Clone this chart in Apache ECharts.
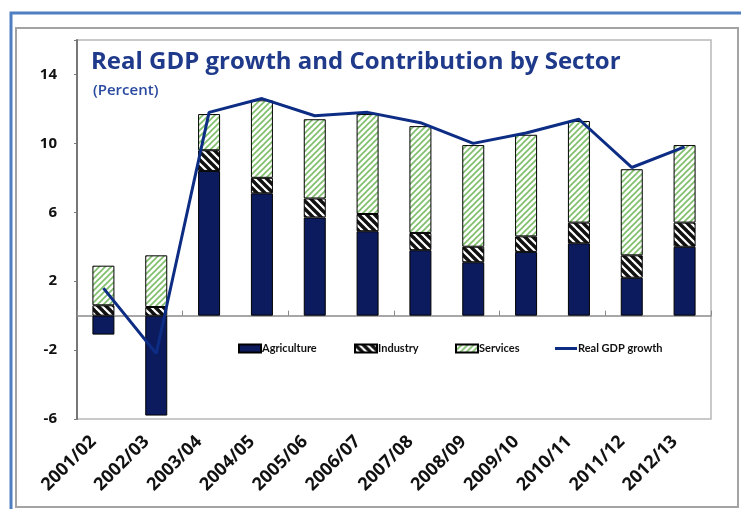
<!DOCTYPE html>
<html><head><meta charset="utf-8">
<script src="https://cdn.jsdelivr.net/npm/echarts@6/dist/echarts.min.js"></script>
<style>html,body{margin:0;padding:0;background:#fff}#c{width:741px;height:509px}</style>
</head><body><div id="c"></div>
<script>
const categories = ['2001/02','2002/03','2003/04','2004/05','2005/06','2006/07','2007/08','2008/09','2009/10','2010/11','2011/12','2012/13'];
const agriculture = [-1.1, -5.8, 8.4, 7.1, 5.7, 4.9, 3.8, 3.1, 3.7, 4.2, 2.2, 4.0];
const industry = [0.6, 0.5, 1.2, 0.9, 1.1, 1.0, 1.0, 0.9, 0.9, 1.2, 1.3, 1.4];
const services = [2.3, 3.0, 2.1, 4.5, 4.6, 5.8, 6.2, 5.9, 5.9, 5.9, 5.0, 4.5];
const gdpGrowth = [1.6, -2.2, 11.8, 12.6, 11.6, 11.8, 11.2, 10.0, 10.6, 11.4, 8.6, 9.8];
const yTicks = [-6, -2, 2, 6, 10, 14];

function hatch(p, lw, fg, bg, back) {
  const c = document.createElement('canvas');
  c.width = p; c.height = p;
  const g = c.getContext('2d');
  g.fillStyle = bg; g.fillRect(0, 0, p, p);
  g.strokeStyle = fg; g.lineWidth = lw; g.lineCap = 'square';
  for (let k = -1; k <= 1; k++) {
    g.beginPath();
    if (back) { g.moveTo(k * p, 0); g.lineTo(k * p + p, p); }
    else { g.moveTo(k * p, p); g.lineTo(k * p + p, 0); }
    g.stroke();
  }
  return {image: c, repeat: 'repeat'};
}
const industryFill = hatch(8, 3.4, '#111', '#fff', true);
const servicesFill = hatch(6, 1.7, '#7fbf6c', '#fff', false);

const FONT = 'Lato';
const TFONT = 'Open Sans';
const chart = echarts.init(document.getElementById('c'), null, {renderer:'canvas'});
const legendBase = {orient:'horizontal', top:338, itemWidth:22, itemHeight:8, itemGap:0,
  textStyle:{fontFamily:FONT, fontSize:11, fontWeight:'bold', color:'#111', padding:[0,0,0,-4]}};
chart.setOption({
  animation:false,
  textStyle:{fontFamily:FONT},
  title:[
    {text:'Real GDP growth and Contribution by Sector', left:86, top:45,
     textStyle:{fontFamily:TFONT, fontSize:24, fontWeight:'bold', color:'#1f3a8a'}},
    {text:'(Percent)', left:88, top:78,
     textStyle:{fontFamily:TFONT, fontSize:15, fontWeight:'600', color:'#2a4aa0'}}
  ],
  legend:[
    Object.assign({}, legendBase, {left:233, data:[{name:'Agriculture', icon:'rect'}]}),
    Object.assign({}, legendBase, {left:349, data:[{name:'Industry', icon:'rect'}]}),
    Object.assign({}, legendBase, {left:450, data:[{name:'Services', icon:'rect'}]}),
    Object.assign({}, legendBase, {left:550, itemHeight:3, data:[{name:'Real GDP growth', icon:'rect'}]})
  ],
  grid:{left:77, right:30, top:40, bottom:90, show:true, borderColor:'#b8b8b8', borderWidth:1.5},
  xAxis:[
    {type:'category', data:categories, position:'bottom',
     axisLine:{show:false, onZero:false}, axisTick:{show:false},
     axisLabel:{rotate:45, margin:10, padding:[0,14,0,0], fontFamily:TFONT, fontSize:18, fontWeight:'bold', color:'#111', interval:0}},
    {type:'category', data:categories, position:'bottom',
     axisLine:{show:true, onZero:true, lineStyle:{color:'#8a8a8a', width:1.5}},
     axisTick:{show:true, inside:true, length:5, lineStyle:{color:'#8a8a8a'}},
     axisLabel:{show:false}}
  ],
  yAxis:{type:'value', min:-6, max:16, interval:4,
    axisLine:{show:true, lineStyle:{color:'#777', width:2}},
    axisTick:{show:true, length:3, lineStyle:{color:'#777'}},
    splitLine:{show:false},
    axisLabel:{margin:20, fontFamily:TFONT, fontSize:15, fontWeight:'bold', color:'#111',
      formatter:v=> yTicks.indexOf(v) >= 0 ? String(v) : ''}},
  series:[
    {name:'Agriculture', type:'bar', stack:'s', barWidth:22, data:agriculture,
     itemStyle:{color:'#0c1a5e', borderColor:'#000', borderWidth:1}},
    {name:'Industry', type:'bar', stack:'s', barWidth:22, data:industry,
     itemStyle:{color:industryFill, borderColor:'#000', borderWidth:1}},
    {name:'Services', type:'bar', stack:'s', barWidth:22, data:services,
     itemStyle:{color:servicesFill, borderColor:'#000', borderWidth:1}},
    {name:'Real GDP growth', type:'line', data:gdpGrowth, symbol:'none', z:5,
     lineStyle:{color:'#0d2d84', width:3}, itemStyle:{color:'#0d2d84'}}
  ],
  graphic:[
    {type:'polyline', silent:true, shape:{points:[[11,520],[11,13],[760,13]]}, style:{stroke:'#4f7fc0', lineWidth:3, fill:null}},
    {type:'rect', silent:true, shape:{x:16, y:28, width:722, height:479}, style:{stroke:'#a3a3a3', lineWidth:2, fill:null}}
  ]
});
</script></body></html>
